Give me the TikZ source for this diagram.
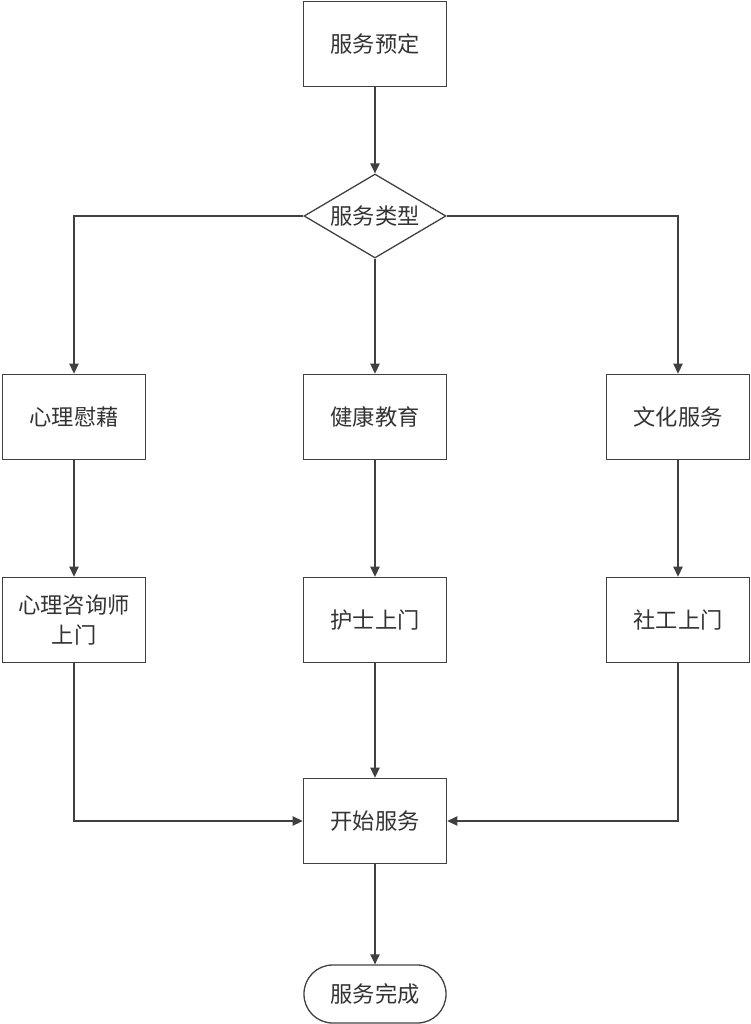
\documentclass[tikz,border=0pt]{standalone}
\usepackage{fontspec}
\setmainfont{Noto Sans CJK SC}
\usetikzlibrary{shapes.geometric,arrows.meta}
\begin{document}
\begin{tikzpicture}[x=0.03cm, y=-0.03cm,
    box/.style={rectangle, draw=black!75, line width=1.1pt, minimum width=4.3cm, minimum height=2.56cm, align=center, font=\fontsize{19}{25}\selectfont, text=black!80},
    choice/.style={diamond, shape aspect=1.7, draw=black!75, line width=1.1pt, minimum width=4.26cm, minimum height=2.52cm, inner sep=0pt, font=\fontsize{19}{25}\selectfont, text=black!80},
    ending/.style={rectangle, rounded corners=0.86cm, draw=black!75, line width=1.1pt, minimum width=4.26cm, minimum height=1.74cm, font=\fontsize{19}{25}\selectfont, text=black!80},
    arr/.style={-{Triangle[length=3mm,width=2.8mm]}, draw=black!75, line width=1.1pt}]
        \useasboundingbox (0,0) rectangle (751,1024);
        % Booking and the choice of service
        \node[box] (book) at (375,44) {服务预定};
        \node[choice] (kind) at (375,216) {服务类型};
    
        % The three kinds of service
        \node[box] (mind) at (74,417) {心理慰藉};
        \node[box] (health) at (375,417) {健康教育};
        \node[box] (culture) at (678,417) {文化服务};
    
        % Who comes to the door
        \node[box] (counsel) at (74,620) {心理咨询师\\上门};
        \node[box] (nurse) at (375,620) {护士上门};
        \node[box] (social) at (678,620) {社工上门};
    
        % Start and end
        \node[box] (start) at (375,821) {开始服务};
        \node[ending] (done) at (375,994) {服务完成};
    
        % Draw arrows between the steps
        \draw[arr] (book) -- (kind);
        \draw[arr] (kind.west) -| (mind.north);
        \draw[arr] (kind) -- (health);
        \draw[arr] (kind.east) -| (culture.north);
        \draw[arr] (mind) -- (counsel);
        \draw[arr] (health) -- (nurse);
        \draw[arr] (culture) -- (social);
        \draw[arr] (counsel.south) |- (start.west);
        \draw[arr] (nurse) -- (start);
        \draw[arr] (social.south) |- (start.east);
        \draw[arr] (start) -- (done);
    
    \end{tikzpicture}
\end{document}
